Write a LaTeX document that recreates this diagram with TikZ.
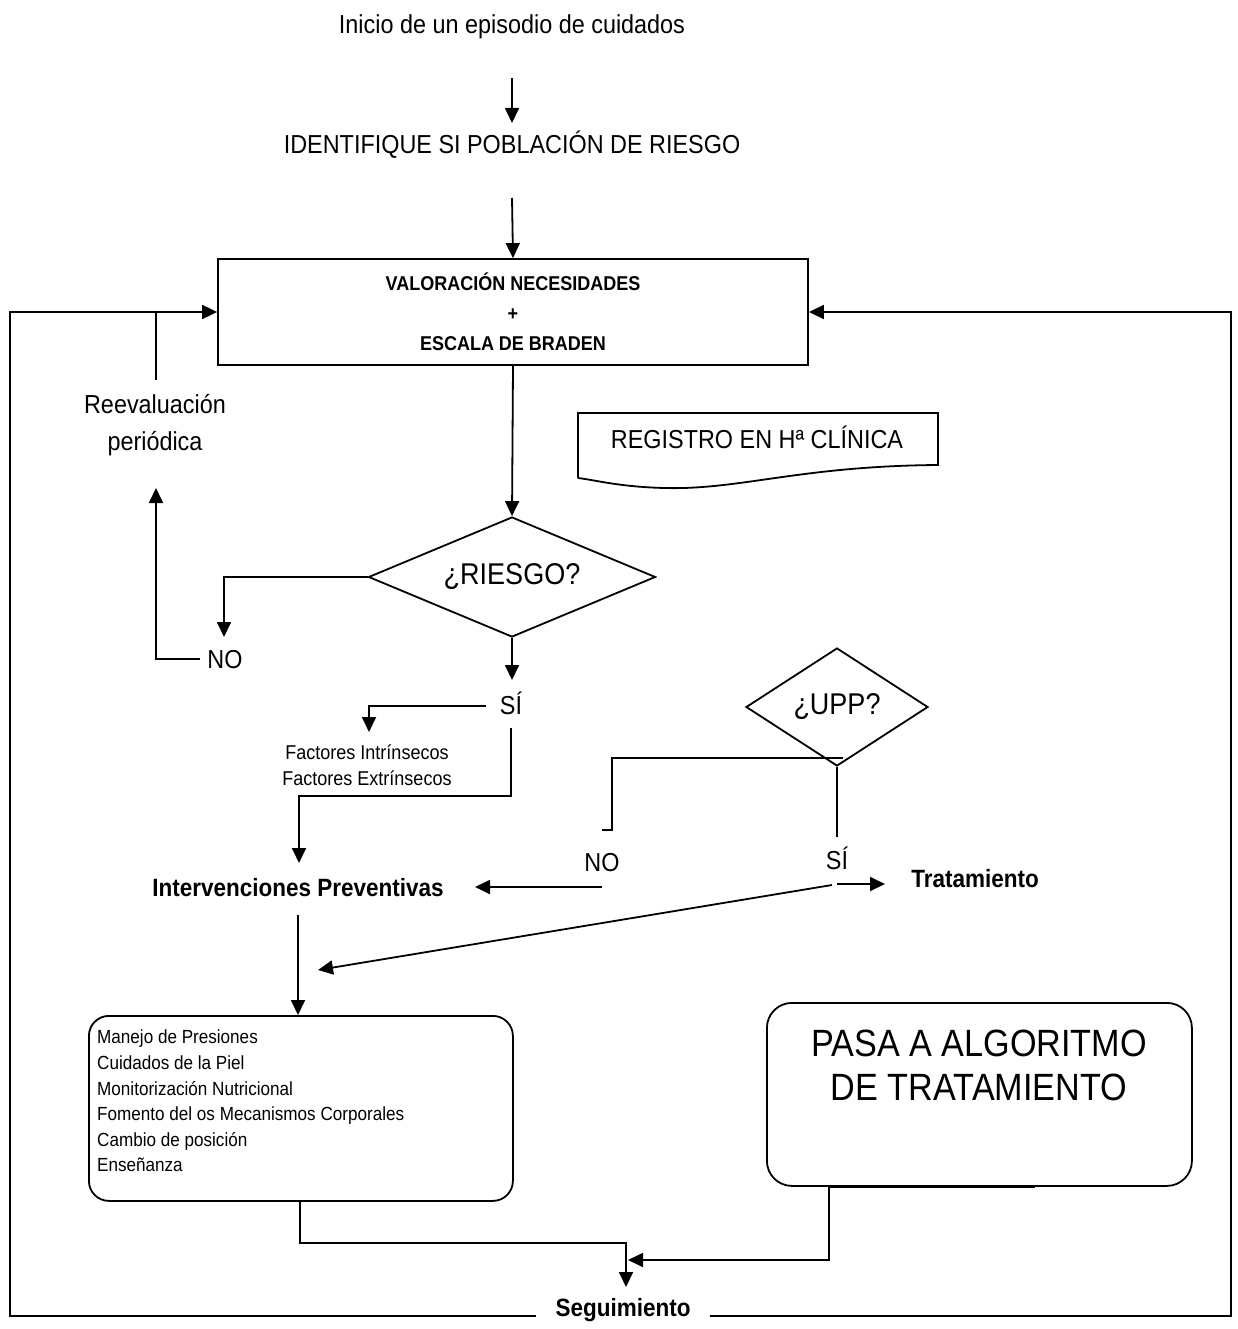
\documentclass[tikz,border=0pt]{standalone}
\usepackage{fontspec}
\setmainfont{Liberation Sans}[FakeStretch=0.9]
\usetikzlibrary{arrows.meta,shapes.geometric}
\begin{document}
\begin{tikzpicture}[x=1pt,y=-1pt,
  ln/.style={line width=1.8pt},
  arr/.style={ln,-{Triangle[length=15pt,width=14pt]}},
  big/.style={font=\fontsize{26}{31}\selectfont, inner sep=0pt},
  qf/.style={font=\fontsize{30}{36}\selectfont},
  valf/.style={font=\fontsize{20}{30}\selectfont\bfseries},
  smallf/.style={font=\fontsize{20}{26}\selectfont, inner sep=0pt},
  listf/.style={font=\fontsize{19}{25.6}\selectfont},
  headf/.style={font=\fontsize{25}{30}\selectfont\bfseries, inner sep=0pt},
  pasaf/.style={font=\fontsize{38}{44}\selectfont, inner sep=0pt}]
\useasboundingbox (0,0) rectangle (1237,1329);

% texts at top
\node[big] (inicio) at (512,27) {Inicio de un episodio de cuidados};
\node[big] (ident) at (512,145) {IDENTIFIQUE SI POBLACIÓN DE RIESGO};
\coordinate (a1) at (512,78);
\coordinate (a2) at (512,198);
\draw[arr] (a1) -- (512,123);
\node[ln, draw, minimum width=590pt, minimum height=106pt, inner sep=0pt, align=center, valf] (val) at (513,312)
  {VALORACIÓN NECESIDADES\\+\\ESCALA DE BRADEN};
\draw[arr] (a2) -- (val.north);

% registro document shape
\node[big] (reg) at (757,437) {REGISTRO EN Hª CLÍNICA};
\draw[ln] (578,478) -- (578,413) -- (938,413) -- (938,465)
  .. controls (800,466) and (740,490) .. (665,488)
  .. controls (620,487) and (595,480) .. (578,478);

% riesgo diamond
\node[diamond, ln, draw, aspect=2.4, minimum width=287pt, minimum height=120pt, inner sep=0pt, qf] (riesgo) at (512,577) {¿RIESGO?};
\draw[arr] (val.south) -- (riesgo.north);

% NO branch left
\node[big] (no1) at (225,660) {NO};
\draw[arr] (riesgo.west) -- (224,577) -- (224,637);
\coordinate (no1l) at (200,659);
\draw[arr] (no1l) -- (156,659) -- (156,488);
\node[big, align=center, font=\fontsize{26}{37}\selectfont] (reev) at (155,425) {Reevaluación\\periódica};
\coordinate (reevtop) at (156,380);
\draw[ln] (reevtop) -- (156,312);

% SI branch
\node[big] (si1) at (511,703) {SÍ};
\draw[arr] (riesgo.south) -- (512,680);
\coordinate (si1l) at (486,706);
\draw[arr] (si1l) -- (369,706) -- (369,732);
\node[smallf, align=center] (fact) at (367,765) {Factores Intrínsecos\\Factores Extrínsecos};
\coordinate (si1b) at (511,728);
\node[headf] (interv) at (298,888) {Intervenciones Preventivas};
\draw[arr] (si1b) -- (511,796) -- (299,796) -- (299,863);

% UPP diamond
\node[diamond, ln, draw, aspect=1.54, minimum width=182pt, minimum height=118pt, inner sep=0pt, qf] (upp) at (837,707) {¿UPP?};
\draw[ln] (843,758) -- (612,758) -- (612,830) -- (602,830);
\node[big] (no2) at (602,863) {NO};
\coordinate (no2s) at (602,887);
\draw[arr] (no2s) -- (475,887);
\draw[ln] (upp.south) -- (837,837);
\node[big] (si2) at (837,858) {SÍ};
\coordinate (si2s) at (837,884);
\node[headf] (trat) at (975,879) {Tratamiento};
\draw[arr] (si2s) -- (885,884);
\coordinate (diag) at (832,885);
\draw[arr] (diag) -- (318,970);

% lower boxes
\node[ln, draw, rounded corners=20pt, minimum width=424pt, minimum height=185pt, anchor=north west, inner sep=0pt] (man) at (88,1015) {};
\node[listf, anchor=north west, align=left, inner sep=0pt] (mantext) at (97,1030)
  {Manejo de Presiones\\Cuidados de la Piel\\Monitorización Nutricional\\Fomento del os Mecanismos Corporales\\Cambio de posición\\Enseñanza};
\draw[arr] (interv.south |- 0,915) -- (man.north -| interv.south);

\node[ln, draw, rounded corners=25pt, minimum width=425pt, minimum height=183pt, anchor=north west, inner sep=0pt] (pasa) at (766,1002) {};
\node[pasaf, align=center] (pasatext) at (979,1065) {PASA A ALGORITMO\\DE TRATAMIENTO};
\draw[line width=2.2pt] (828,1187) -- (1035,1187);

% seguimiento
\node[headf, inner xsep=19pt] (seg) at (623,1310) {Seguimiento};
\draw[arr] (300,1200) -- (300,1243) -- (626,1243) -- (626,1287);
\draw[arr] (829,1187) -- (829,1260) -- (628,1260);

% loops
\draw[arr] ([yshift=-6pt]seg.west) -- (10,1316) -- (10,312) -- (val.west);
\draw[arr] ([yshift=-6pt]seg.east) -- (1231,1316) -- (1231,312) -- (val.east);
\end{tikzpicture}
\end{document}
